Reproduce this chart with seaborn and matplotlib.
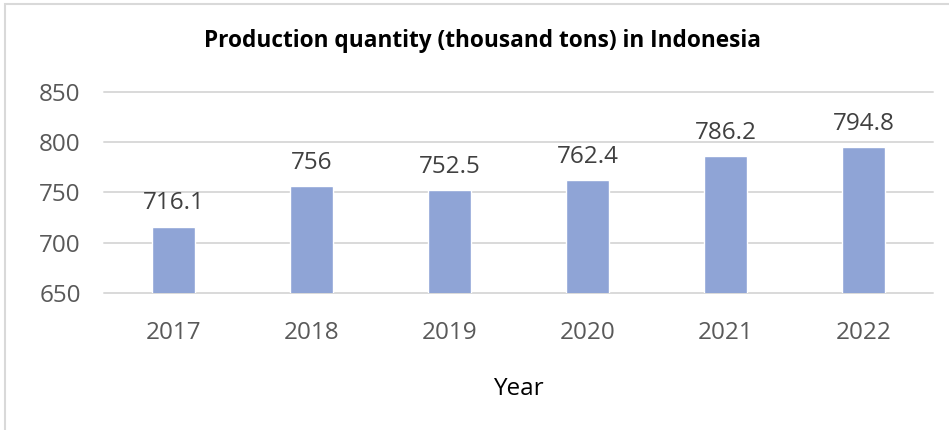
import matplotlib
matplotlib.use("Agg")
import matplotlib.pyplot as plt
import seaborn as sns
import pandas as pd
from matplotlib.patches import Rectangle

years = ["2017", "2018", "2019", "2020", "2021", "2022"]
production = [716.1, 756, 752.5, 762.4, 786.2, 794.8]
value_labels = ["716.1", "756", "752.5", "762.4", "786.2", "794.8"]
y_ticks = [650, 700, 750, 800, 850]

title = "Production quantity (thousand tons) in Indonesia"
x_label = "Year"

sns.set_theme(style="white")
plt.rcParams["font.family"] = ["Open Sans", "DejaVu Sans"]

df = pd.DataFrame({"Year": years, "Production": production})

W, H = 949, 430
fig = plt.figure(figsize=(W / 100, H / 100), dpi=100)
ax = fig.add_axes([104.3 / W, 1 - 293 / H, (932.5 - 104.3) / W, (293 - 92) / H])

sns.barplot(data=df, x="Year", y="Production", color="#8FA4D6", saturation=1,
            width=0.314, ax=ax, zorder=3)

ax.set_ylim(650, 850)
ax.set_yticks(y_ticks)
ax.set_xlim(-0.5, len(years) - 0.5)
for yv in y_ticks:
    ax.axhline(yv, color="#D9D9D9", lw=1.4, zorder=1, clip_on=False)

for s in ax.spines.values():
    s.set_visible(False)

ax.tick_params(axis="y", length=0, pad=17, labelsize=17.5, labelcolor="#595959")
ax.tick_params(axis="x", length=0, pad=20, labelsize=17.5, labelcolor="#595959")
ax.set_ylabel("")
ax.set_xlabel(x_label, fontsize=17.5, color="#000000", labelpad=23)

ax.bar_label(ax.containers[0], labels=value_labels, padding=8,
             fontsize=17.5, color="#404040")

fig.text(483 / W, 1 - 41 / H, title, ha="center", va="center",
         fontsize=16.3, fontweight="bold", color="#000000")

fig.patches.append(Rectangle((5 / W, -0.2), 1.2, 1.2 - 4 / H,
                             transform=fig.transFigure, fill=False,
                             edgecolor="#D9D9D9", lw=1.5))

fig.savefig("out.png", dpi=100)
